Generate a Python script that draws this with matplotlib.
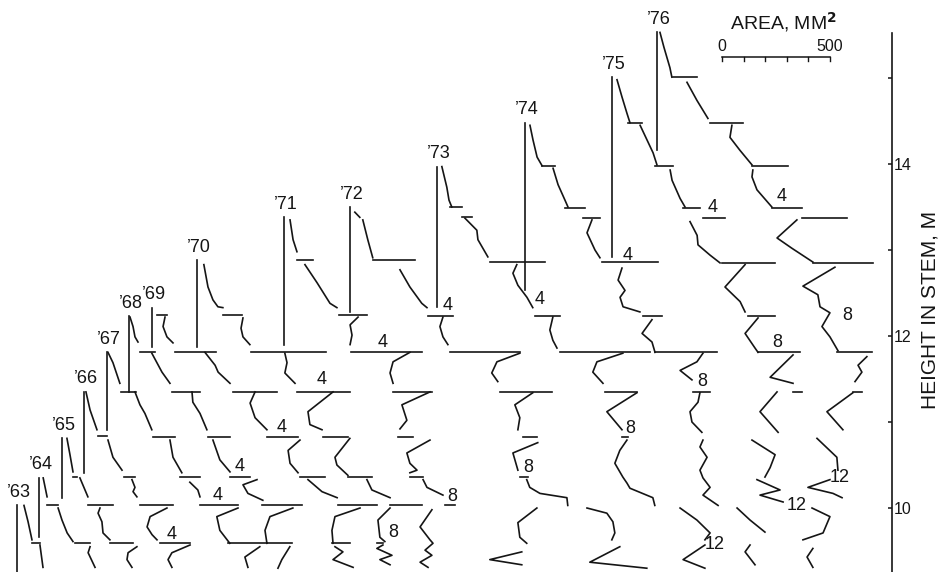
import matplotlib

matplotlib.use("Agg")
import matplotlib.pyplot as plt

plt.rcParams["font.family"] = ["Liberation Sans", "DejaVu Sans"]

# Growth years and where each year's zero-area line sits along the sheet (mm2)
years = [63, 64, 65, 66, 67, 68, 69, 70, 71, 72, 73, 74, 75, 76]
zero_line = [79, 181, 287, 389, 495, 597, 704, 912, 1315, 1620, 2023, 2431, 2834, 3042]

# Stem line of each year: from the leader tip down (height, m)
stem_top = [10.03, 10.35, 10.81, 11.35, 11.81, 12.23, 12.33, 12.88, 13.38, 13.50, 13.97, 14.48, 15.01, 15.53]
stem_bottom = [9.26, 9.66, 10.12, 10.41, 10.91, 11.35, 11.87, 11.87, 11.90, 12.28, 12.34, 12.53, 12.92, 14.16]

# Ring area profiles, one list of (height m, area mm2) per internode
prof_63 = [
    [(10.03, 32), (9.84, 51), (9.63, 69)],
    [(9.57, 106), (9.31, 120)],
]
prof_64 = [
    [(10.35, 19), (10.13, 37)],
    [(10.00, 88), (9.86, 106), (9.71, 130), (9.61, 157)],
    [(9.55, 236), (9.48, 227), (9.31, 259)],
]
prof_65 = [
    [(10.81, 23), (10.62, 37), (10.42, 51)],
    [(10.35, 83), (10.13, 120)],
    [(10.00, 176), (9.94, 167), (9.84, 185), (9.71, 190), (9.63, 222)],
    [(9.55, 347), (9.48, 306), (9.40, 301), (9.31, 324)],
]
prof_66 = [
    [(11.35, 9), (11.14, 28), (10.91, 60)],
    [(10.79, 111), (10.59, 134), (10.44, 176)],
    [(10.33, 222), (10.24, 236), (10.19, 227), (10.13, 245)],
    [(10.00, 384), (9.90, 306), (9.78, 292), (9.69, 315), (9.63, 338)],
    [(9.57, 491), (9.48, 407), (9.40, 389), (9.31, 407)],
]
prof_67 = [
    [(11.81, 5), (11.69, 28), (11.45, 60)],
    [(11.35, 130), (11.20, 153), (11.10, 176), (10.91, 208)],
    [(10.79, 292), (10.59, 306), (10.41, 347)],
    [(10.30, 384), (10.21, 421), (10.13, 431)],
    [(10.00, 607), (9.90, 509), (9.74, 523), (9.59, 569)],
    [(9.55, 708), (9.43, 639), (9.31, 653)],
]
prof_68 = [
    [(12.22, 5), (12.11, 19), (11.99, 28), (11.93, 42)],
    [(11.80, 106), (11.58, 153), (11.45, 190)],
    [(11.35, 292), (11.23, 296), (11.10, 329), (10.91, 361)],
    [(10.79, 389), (10.56, 421), (10.42, 468)],
    [(10.33, 593), (10.27, 528), (10.17, 551), (10.09, 620)],
    [(10.00, 759), (9.90, 653), (9.74, 630), (9.59, 639)],
    [(9.55, 745), (9.40, 708), (9.30, 690)],
]
prof_69 = [
    [(12.22, 60), (12.11, 51), (11.99, 69), (11.92, 97)],
    [(11.81, 245), (11.66, 292), (11.58, 306), (11.45, 361)],
    [(11.35, 477), (11.22, 454), (11.05, 477), (10.91, 532)],
    [(10.79, 685), (10.67, 630), (10.52, 639), (10.41, 676)],
    [(10.33, 722), (10.19, 787), (10.12, 857)],
    [(10.00, 963), (9.90, 847), (9.74, 833), (9.59, 838)],
    [(9.55, 847), (9.49, 884), (9.40, 838), (9.31, 931)],
]
prof_70 = [
    [(12.83, 32), (12.57, 51), (12.42, 74), (12.34, 97), (12.33, 120)],
    [(12.21, 213), (12.09, 204), (11.99, 213), (11.90, 245)],
    [(11.80, 407), (11.69, 417), (11.57, 407), (11.45, 454)],
    [(11.35, 630), (11.12, 514), (10.97, 523), (10.91, 579)],
    [(10.81, 708), (10.59, 639), (10.50, 648), (10.38, 699)],
    [(10.33, 787), (10.21, 810), (10.12, 894)],
    [(10.00, 894), (9.86, 838), (9.66, 847), (9.61, 870)],
    [(9.57, 861), (9.53, 833), (9.45, 903), (9.40, 847), (9.34, 894)],
]
prof_71 = [
    [(13.35, 28), (13.12, 42), (12.98, 60)],
    [(12.83, 97), (12.62, 153), (12.38, 213), (12.33, 245)],
    [(12.22, 343), (12.13, 306), (12.01, 315), (11.90, 306)],
    [(11.81, 583), (11.70, 505), (11.57, 491), (11.45, 505)],
    [(11.35, 676), (11.20, 546), (11.02, 569), (10.92, 537)],
    [(10.79, 676), (10.64, 569), (10.52, 583), (10.44, 616), (10.41, 583)],
    [(10.33, 644), (10.24, 662), (10.15, 736)],
    [(9.98, 685), (9.78, 630), (9.63, 676), (9.59, 690), (9.51, 653),
     (9.45, 685), (9.37, 630), (9.31, 667)],
]
prof_72 = [
    [(13.44, 23), (13.38, 46)],
    [(13.35, 60), (13.12, 83), (12.91, 106)],
    [(12.77, 232), (12.57, 278), (12.38, 333), (12.33, 357)],
    [(12.22, 431), (12.11, 417), (11.99, 431), (11.90, 454)],
    [(11.80, 787), (11.70, 681), (11.57, 657), (11.47, 685)],
    [(11.34, 847), (11.20, 764), (11.05, 787), (10.91, 778)],
    [(10.76, 870), (10.64, 755), (10.44, 778)],
    [(10.33, 819), (10.24, 833), (10.17, 880), (10.12, 1005), (10.03, 1009)],
    [(10.00, 866), (9.83, 778), (9.66, 787), (9.59, 819)],
    [(9.49, 796), (9.40, 648), (9.34, 796)],
]
prof_73 = [
    [(13.97, 23), (13.73, 46), (13.58, 56), (13.50, 69)],
    [(13.37, 130), (13.23, 185), (13.12, 190), (12.92, 236)],
    [(12.83, 370), (12.73, 352), (12.59, 375), (12.45, 417), (12.33, 444)],
    [(12.22, 537), (12.07, 523), (11.95, 537), (11.86, 556)],
    [(11.80, 861), (11.70, 741), (11.58, 722), (11.45, 769)],
    [(11.34, 926), (11.12, 787), (10.91, 857)],
    [(10.79, 880), (10.67, 847), (10.52, 824), (10.36, 861), (10.29, 880),
     (10.23, 894), (10.12, 1000), (10.03, 1009)],
    [(10.00, 695), (9.94, 787), (9.84, 815), (9.71, 824), (9.63, 810)],
    [(9.55, 847), (9.37, 708), (9.30, 972)],
]
prof_74 = [
    [(14.45, 23), (14.28, 37), (14.08, 56), (13.98, 79)],
    [(13.95, 130), (13.76, 153), (13.58, 185), (13.50, 199)],
    [(13.35, 310), (13.20, 287), (13.00, 324), (12.91, 347)],
    [(12.79, 449), (12.65, 431), (12.53, 463), (12.45, 440), (12.34, 454), (12.28, 532)],
    [(12.19, 588), (12.03, 542), (11.93, 588), (11.81, 602)],
    [(11.80, 824), (11.70, 796), (11.60, 718), (11.49, 773)],
    [(11.34, 810), (11.23, 801), (11.12, 764), (11.00, 773), (10.88, 819)],
    [(10.79, 824), (10.71, 810), (10.59, 843), (10.44, 810), (10.35, 824),
     (10.24, 857), (10.15, 824), (10.03, 894)],
    [(10.00, 718), (9.86, 796), (9.71, 857), (9.63, 833)],
    [(9.57, 833), (9.40, 732), (9.30, 833)],
]
prof_75 = [
    [(14.98, 23), (14.78, 46), (14.59, 69), (14.48, 83)],
    [(14.45, 130), (14.13, 190), (13.99, 208)],
    [(13.93, 269), (13.81, 278), (13.60, 315), (13.50, 338)],
    [(13.33, 361), (13.17, 394), (13.06, 398), (12.94, 454), (12.85, 500)],
    [(12.83, 616), (12.57, 523), (12.40, 593), (12.28, 616)],
    [(12.21, 676), (12.03, 616), (11.86, 662), (11.81, 676)],
    [(11.78, 838), (11.52, 732), (11.45, 838)],
    [(11.35, 764), (11.12, 685), (10.88, 769)],
    [(10.79, 648), (10.62, 755), (10.47, 732), (10.36, 708)],
    [(10.33, 671), (10.21, 778), (10.15, 685), (10.07, 792)],
    [(10.00, 579), (9.86, 639), (9.72, 708)],
    [(9.57, 639), (9.49, 616), (9.34, 662)],
]
prof_76 = [
    [(15.53, 14), (15.36, 32), (15.12, 60), (15.01, 69)],
    [(14.95, 139), (14.74, 185), (14.53, 236)],
    [(14.45, 347), (14.31, 338), (14.16, 384), (13.99, 440)],
    [(13.93, 444), (13.85, 440), (13.70, 463), (13.50, 532)],
    [(13.35, 648), (13.14, 556), (13.02, 625), (12.86, 722)],
    [(12.80, 824), (12.58, 676), (12.48, 745), (12.34, 755), (12.27, 801),
     (12.11, 764), (11.99, 801), (11.83, 838)],
    [(11.76, 972), (11.66, 931), (11.58, 949), (11.47, 917)],
    [(11.34, 907), (11.12, 787), (10.91, 861)],
    [(10.81, 741), (10.59, 833), (10.44, 838)],
    [(10.33, 801), (10.24, 699), (10.17, 815), (10.12, 857)],
    [(10.00, 718), (9.90, 801), (9.71, 769), (9.63, 676)],
    [(9.53, 722), (9.43, 695), (9.31, 722)],
]

# Whorl steps: (height m, area from, area to) in mm2
bars_63 = [(9.59, 69, 106)]
bars_64 = [(10.03, 37, 88), (9.59, 167, 236)]
bars_65 = [(10.36, 51, 69), (10.03, 120, 236), (9.59, 222, 329)]
bars_66 = [(10.84, 65, 106), (10.36, 185, 236), (10.03, 259, 412), (9.59, 352, 491)]
bars_67 = [(11.35, 65, 134), (10.83, 213, 315), (10.36, 338, 431), (10.03, 431, 607),
           (9.59, 560, 741)]
bars_68 = [(11.81, 51, 120), (11.35, 199, 329), (10.83, 366, 468), (10.36, 468, 560),
           (10.03, 616, 801), (9.59, 639, 755)]
bars_69 = [(12.24, 23, 69), (11.81, 106, 296), (11.35, 375, 579), (10.83, 532, 676),
           (10.36, 685, 801), (10.03, 861, 1042), (9.59, 833, 917)]
bars_70 = [(12.24, 120, 208), (11.81, 250, 597), (11.35, 463, 708), (10.83, 583, 699),
           (10.36, 699, 810), (10.03, 894, 1042), (9.59, 833, 861)]
bars_71 = [(12.88, 60, 134), (12.24, 255, 384), (11.81, 310, 639), (11.35, 505, 685),
           (10.83, 528, 597), (10.36, 583, 644), (10.03, 745, 792)]
bars_72 = [(12.88, 106, 301), (12.23, 361, 477), (11.81, 463, 787), (11.35, 695, 935),
           (10.83, 801, 866), (10.36, 787, 824)]
bars_73 = [(13.50, 60, 116), (13.38, 116, 162), (12.86, 245, 500), (12.23, 454, 569),
           (11.81, 569, 986), (11.35, 778, 926), (10.83, 857, 884)]
bars_74 = [(13.98, 79, 139), (13.49, 185, 278), (13.37, 269, 347), (12.86, 357, 616),
           (12.23, 546, 634), (11.81, 602, 889), (11.35, 778, 857)]
bars_75 = [(14.48, 74, 139), (13.98, 199, 282), (13.49, 329, 407), (13.37, 421, 523),
           (12.85, 509, 755), (12.23, 630, 755), (11.81, 676, 870), (11.35, 838, 880)]
bars_76 = [(15.01, 74, 185), (14.48, 245, 398), (13.98, 440, 607), (13.49, 532, 671),
           (13.37, 671, 880), (12.85, 722, 1000), (11.81, 833, 995), (11.35, 907, 949)]

profiles = [prof_63, prof_64, prof_65, prof_66, prof_67, prof_68, prof_69,
            prof_70, prof_71, prof_72, prof_73, prof_74, prof_75, prof_76]
bars = [bars_63, bars_64, bars_65, bars_66, bars_67, bars_68, bars_69,
        bars_70, bars_71, bars_72, bars_73, bars_74, bars_75, bars_76]

# Ring-age marks written beside the profiles
ring_year = [76, 75, 74, 73, 72, 71, 70, 69, 68, 67, 66,
             76, 75, 74, 73, 72, 71, 70,
             76, 75, 74]
ring_text = ["4"] * 11 + ["8"] * 7 + ["12"] * 3
ring_h = [13.62, 13.49, 12.94, 12.43, 12.35, 11.93, 11.50, 10.94, 10.48, 10.15, 9.69,
          12.24, 11.93, 11.47, 10.93, 10.47, 10.13, 9.71,
          10.36, 10.03, 9.57]
ring_area = [579, 468, 477, 477, 454, 458, 579, 602, 514, 514, 407,
             880, 764, 819, 894, 824, 778, 907,
             847, 857, 880]

ink = "#151515"
lw = 1.2

fig = plt.figure(figsize=(9.47, 5.72), dpi=100)
ax = fig.add_axes([0, 0, 1, 1])
ax.set_xlim(0, 4385)
ax.set_ylim(9.256, 15.907)

for i, yr in enumerate(years):
    x0 = zero_line[i]
    ax.plot([x0, x0], [stem_bottom[i], stem_top[i]], color=ink, lw=lw)
    for seg in profiles[i]:
        hs = [p[0] for p in seg]
        xs = [x0 + p[1] for p in seg]
        ax.plot(xs, hs, color=ink, lw=lw)
    for h, a0, a1 in bars[i]:
        ax.plot([x0 + a0, x0 + a1], [h, h], color=ink, lw=lw)
    ax.annotate("\u2019" + str(yr), (x0, stem_top[i]), xytext=(2, 13),
                textcoords="offset pixels", ha="center", va="center",
                fontsize=13, color=ink)

for yr, txt, h, a in zip(ring_year, ring_text, ring_h, ring_area):
    x0 = zero_line[years.index(yr)]
    ax.text(x0 + a, h, txt, ha="center", va="center", fontsize=13, color=ink)

# Height axis on the right
for side in ["left", "top", "bottom"]:
    ax.spines[side].set_visible(False)
ax.spines["right"].set_position(("data", 4130))
ax.spines["right"].set_bounds(9.256, 15.52)
ax.spines["right"].set_linewidth(1.2)
ax.spines["right"].set_color(ink)
ax.yaxis.tick_right()
ax.set_yticks([10, 12, 14])
ax.set_yticks([11, 13, 15], minor=True)
ax.tick_params(axis="y", which="both", direction="in", length=3, width=1.1,
               pad=1.5, labelsize=11.5, colors=ink)
ax.set_xticks([])
ax.text(0.982, 0.458, "HEIGHT IN STEM, M", transform=ax.transAxes, rotation=90,
        ha="center", va="center", fontsize=15, color=ink)

# Area scale bar
sx0, sy = 3343, 15.24
ax.plot([sx0, sx0 + 500], [sy, sy], color=ink, lw=1.1)
for v in range(0, 501, 100):
    ax.plot([sx0 + v, sx0 + v], [sy, sy - 0.045], color=ink, lw=1.0)
ax.text(sx0, sy + 0.13, "0", ha="center", va="center", fontsize=11.5, color=ink)
ax.text(sx0 + 500, sy + 0.13, "500", ha="center", va="center", fontsize=11.5, color=ink)
ax.text(sx0 + 285, 15.65, r"AREA, MM$^{\mathbf{2}}$", ha="center", va="center",
        fontsize=14, color=ink)

fig.savefig("out.png", dpi=100)
